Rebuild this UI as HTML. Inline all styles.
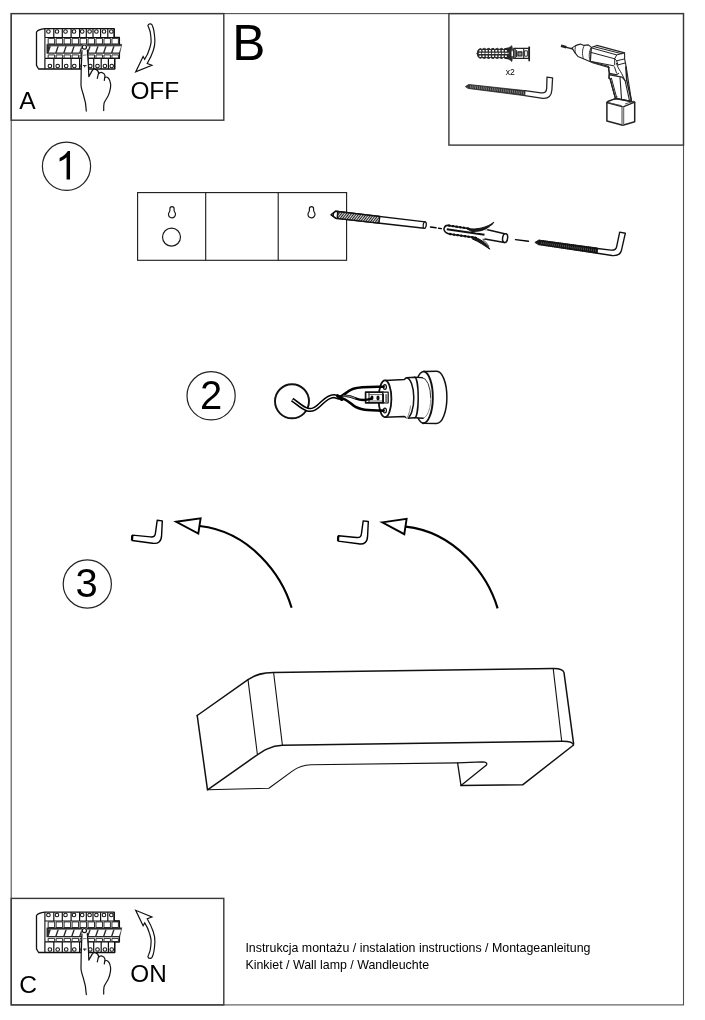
<!DOCTYPE html>
<html><head><meta charset="utf-8">
<style>
html,body{margin:0;padding:0;background:#fff;}
body{width:705px;height:1020px;overflow:hidden;position:relative;font-family:"Liberation Sans",sans-serif;}
svg{position:absolute;left:0;top:0;filter:grayscale(1);}
text{font-family:"Liberation Sans",sans-serif;fill:#000;}
</style></head><body>
<svg width="705" height="1020" viewBox="0 0 705 1020">
<defs>
<pattern id="hatch" width="2" height="2" patternUnits="userSpaceOnUse" patternTransform="rotate(-52)"><rect width="2" height="2" fill="#fff"/><rect width="2" height="1.15" fill="#222"/></pattern>
</defs>
<!-- FRAME -->
<g id="frame" fill="none" stroke="#505050" stroke-width="1.1">
<rect x="11.2" y="13.6" width="672.3" height="991.3"/>
<g stroke="#383838" stroke-width="1.4">
<rect x="11.2" y="13.6" width="212.6" height="106.6"/>
<rect x="448.9" y="13.6" width="234.6" height="131.5"/>
<rect x="11.2" y="898.4" width="212.6" height="106.5"/>
</g>
</g>
<!-- TEXT -->
<g id="labels" opacity="0.999">
<text x="19.2" y="108.8" font-size="24.6">A</text>
<text x="130.4" y="99" font-size="24.4">OFF</text>
<text x="232.2" y="60.4" font-size="49.6">B</text>
<text x="19.2" y="993.2" font-size="24.6">C</text>
<text x="130.3" y="982.2" font-size="24.3">ON</text>
<text x="505.8" y="74.6" font-size="8.6" fill="#333">x2</text>
<text x="245.4" y="951.8" font-size="12.4">Instrukcja montażu / instalation instructions / Montageanleitung</text>
<text x="245.4" y="969" font-size="12.4">Kinkiet / Wall lamp / Wandleuchte</text>
</g>
<!-- STEP CIRCLES -->
<g id="steps" opacity="0.999">
<circle cx="66.5" cy="166.3" r="24.1" fill="none" stroke="#222" stroke-width="1.2"/>
<path transform="translate(55.3 179.4) scale(0.01932 -0.01932)" d="M763 0H583V1147Q518 1085 412.5 1023T223 930V1104Q373 1174.5 485.5 1275T647 1470H763Z" fill="#000"/>
<circle cx="211.1" cy="395.8" r="24.1" fill="none" stroke="#222" stroke-width="1.2"/>
<text x="211" y="409" font-size="40" text-anchor="middle">2</text>
<circle cx="87.3" cy="584" r="24.1" fill="none" stroke="#222" stroke-width="1.2"/>
<text x="86.5" y="597.2" font-size="40" text-anchor="middle">3</text>
</g>
<g id="plate" fill="none" stroke="#1a1a1a" stroke-width="1.1">
<rect x="137.6" y="192.6" width="209" height="67.7"/>
<path d="M205.7 192.6V260.3M278.2 192.6V260.3"/>
<circle cx="171.5" cy="237.1" r="9" stroke-width="1.2"/>
<path id="kh" d="M169.9 208.7A2.1 2.1 0 0 1 174.1 208.7V210.5C174.1 211.8 175.5 212.3 175.5 214.3A3.5 3.5 0 0 1 168.5 214.3C168.5 212.3 169.9 211.8 169.9 210.5Z" stroke-width="1.2"/>
<use href="#kh" x="139.5" y="0"/>
</g>
<!--SECTION:PLATE-->
<g id="lamp" fill="none" stroke="#111" stroke-width="1.5" stroke-linejoin="round" stroke-linecap="round">
<path d="M197.2 715.5L248 679.6C256 674 263 672.7 273.6 672.5L553.2 668.4C560 668.3 563.3 669.5 564 672.7L573.6 743.6"/>
<path d="M197.2 715.5L207.5 789.8L248 761.3C259 754 268 745.6 282.4 745.2L561.7 741.3C568 741.2 573 742.2 573.6 745L522.6 784.8L461 785.6"/>
<path d="M207.5 789.8L268.9 788.2L292.3 771.1C298 767 303 765 311 764.8L457.6 762.9" stroke-width="1.1"/>
<path d="M457.6 762.9L482.3 761.8C486 761.8 487.6 763.4 486.5 764.9L461 785.6Z" stroke-width="1.3"/>
<path d="M248 679.6L257.4 754.5M273.6 672.5L282.4 745.2M553.2 668.6L561.7 741.3" stroke-width="1.1"/>
</g>
<!--SECTION:LAMP-->
<g id="arrows" fill="none" stroke="#000" stroke-linejoin="miter">
<g id="arw">
<path d="M157.2 520.3L162.3 520.9L161.6 535.5C161.3 541.6 158.2 544.2 152.5 543.2L132.1 540.5L132.5 535.1L150.5 536.9C154 537.2 155.3 536 155.5 532.7Z" stroke-width="1.4" stroke-linejoin="round"/>
<path d="M132.3 535.3L132 540.3" stroke-width="2.2"/>
<path d="M176.2 521.8L200.6 518.3L198.3 533.6Z" stroke-width="1.9"/>
<path d="M199.6 526C250 531.5 282 575 291.6 607.8" stroke-width="2.1" stroke-linecap="butt"/>
</g>
<use href="#arw" x="206" y="0.6"/>
</g>
<!--SECTION:ARROWS-->
<g id="socket" fill="none" stroke="#111" stroke-width="1.3" stroke-linecap="round" stroke-linejoin="round">
<!-- wall hole circle + cable -->
<circle cx="292" cy="401.3" r="17" stroke-width="1.9"/>
<path d="M292.2 399.6C298 403.5 302 408 307.5 409.6C312.5 411 316 408.5 321.7 403C326 399 330 396 334 396.2L340 397.8" stroke="#000" stroke-width="4.3" stroke-linecap="butt"/>
<path d="M292.6 399.9C298 403.5 302 408 307.5 409.6C312.5 411 316 408.5 321.7 403C326 399 330 396 334 396.2L339 397.4" stroke="#fff" stroke-width="1.2" stroke-linecap="butt"/>
<!-- flange -->
<path d="M423.9 371.4L436.7 371.2A10.2 26.1 0 0 1 436.7 423.4L423.1 423.3A9.8 26 0 0 1 423.9 371.4Z" fill="#fff" stroke-width="1.5"/>
<path d="M423.9 371.4A9.8 26 0 0 1 423.1 423.3" stroke-width="1.9"/>
<!-- neck -->
<path d="M414.6 377.3L422.2 377.6A8.5 20.3 0 0 1 423.1 418.2L414.6 417.7Z" fill="#fff" stroke="none"/>
<path d="M422.2 377.6A8.5 20.3 0 0 1 430.7 397.7" stroke-width="1" stroke="#333"/>
<path d="M430.7 397.7A8.5 20.3 0 0 1 423.1 418.2" stroke-width="0.9" stroke="#777" stroke-dasharray="1.6 1"/>
<path d="M414.6 377.3L422.2 377.6M414.6 417.7L423.1 418.2" stroke-width="1.4"/>
<!-- collar -->
<path d="M406.5 377.7L414.6 377.3A3.6 20.2 0 0 1 414.6 417.7L406.9 418.2Z" fill="#fff" stroke-width="1.5"/>
<!-- body -->
<path d="M385 380.4L404.4 379.4L406.5 377.7A7.6 20.3 0 0 1 406.9 418.2L404.4 416.5L385 417.2Z" fill="#fff" stroke-width="1.5"/>
<path d="M410.5 406C409.8 411 408.6 415.5 406.9 418.2" stroke="#fff" stroke-width="1.6"/>
<path d="M410.5 406C409.8 411 408.6 415.5 406.9 418.2" stroke="#666" stroke-width="0.9" stroke-dasharray="1.4 1"/>
<ellipse cx="385" cy="398.8" rx="6.4" ry="18.4" fill="#fff" stroke-width="1.8"/>
<!-- terminal details -->
<ellipse cx="384.9" cy="387" rx="1.5" ry="2.4" stroke-width="1.2"/>
<ellipse cx="384.9" cy="410.6" rx="1.5" ry="2.4" stroke-width="1.2"/>
<path d="M365.6 392.2H383V402.8H365.6Z" fill="#fff" stroke-width="1.7"/>
<path d="M383 392.2H388.2V402.8H383" fill="#fff" stroke-width="1.2"/>
<path d="M369 392.2V402.8" stroke-width="1"/>
<path d="M369 394.6H383M369 401H383" stroke-width="0.8" stroke="#444"/>
<ellipse cx="372" cy="397.7" rx="1.5" ry="2.2" fill="#111" stroke="none"/>
<ellipse cx="378" cy="398" rx="1.6" ry="2.4" fill="#111" stroke="none"/>
<path d="M386.3 395V402.4" stroke-width="2.2" stroke="#777"/>
<path d="M383.2 394V402.6" stroke-width="1.6" stroke="#111"/>
<!-- wires -->
<path d="M339.5 397.6C344 394.5 348.5 390.5 353.4 388.8C360 386.6 370 386.6 383.6 386.8" stroke="#000" stroke-width="2.6"/>
<path d="M340 398C346 398.5 349.5 402.5 353.4 405.6C359 410 368 410.4 383.6 410.6" stroke="#000" stroke-width="2.6"/>
<path d="M340 396.6C346 394.6 351 396.3 356.2 398.6C360 400.2 366 400.2 371.5 398.6" stroke="#000" stroke-width="2.5"/>
<path d="M343 396C347 395.3 351 396.6 355 398.2" stroke="#fff" stroke-width="0.6"/>
<path d="M337.5 395.8L341.8 399.4" stroke="#000" stroke-width="3.2"/>
</g>
<!--SECTION:SOCKET-->
<g id="hardware" fill="none" stroke="#111" stroke-width="1.2" stroke-linecap="round" stroke-linejoin="round">
<!-- drill bit -->
<path d="M331.2 214.8L335.7 211.2L425.1 221.9A1.6 3.3 6.8 0 1 424.3 228.3L335.7 218.2Z" fill="#fff" stroke-width="1.4"/>
<path d="M337.6 211.5L379.8 216.5L379 223.2L337.2 218.4Z" fill="url(#hatch)" stroke="#111" stroke-width="1.3"/>
<path d="M331.2 214.8L335.7 211.2L337.8 211.5L337.3 218.4L335.7 218.2Z" fill="#fff" stroke-width="1.5"/>
<path d="M333.6 213.2L333.4 216.6" stroke-width="1"/>
<ellipse cx="424.7" cy="225.1" rx="1.5" ry="3.3" transform="rotate(6.8 424.7 225.1)" stroke-width="1.2" fill="#fff"/>
<!-- dashes -->
<path d="M430.5 227L436 227.8M438.6 228.2L441.4 228.6M515.5 239.6L528.5 241.2" stroke-width="1.4" stroke="#000"/>
<!-- dowel -->
<path d="M485.5 229.2L504.6 233.7A2.6 4.5 8 0 1 504.4 242.6L483.4 238.8Z" fill="#fff" stroke-width="1.5"/>
<ellipse cx="505.1" cy="238.1" rx="2.5" ry="4.4" transform="rotate(8 505.1 238.1)" stroke-width="1.5" fill="#fff"/>
<path d="M443.9 229.1C444.4 226.6 446 225.2 448.2 225.4L487 230.5L484.4 239L449.3 233.9C446.5 233.3 444.4 231.8 443.9 229.1Z" fill="#fff" stroke="none"/><path d="M470 228.8L448.2 225.4C446 225.2 444.4 226.6 443.9 229.1C444.4 231.8 446.5 233.3 449.3 233.9L476 237.7" stroke-width="1.5"/>
<path d="M449 225.5L470 228.7" stroke="#111" stroke-width="2.3" stroke-dasharray="0.7 3"/>
<path d="M450 234L476 237.8" stroke="#111" stroke-width="2.3" stroke-dasharray="0.7 3"/>
<path d="M446.8 229.2L484.5 234.8" stroke="#111" stroke-width="2" stroke-linecap="butt"/>
<path d="M467 228.6C477 230 487 227.6 493.8 222.2C490 229 480 232.6 472 231.6Z" fill="#1a1a1a" stroke-width="1"/>
<path d="M473 237.1C480 238.1 486 243 489.8 249.2C485 246 480 242.2 472.5 239Z" fill="#1a1a1a" stroke-width="1"/>
<path d="M476 232.3C482 232.2 487 230 491.3 225.8" stroke-width="0.9" stroke="#fff"/>
<path d="M483 239.6C485.5 241.5 487.5 244 488.8 246.5" stroke-width="0.9" stroke="#222"/>
<!-- hook screw -->
<path d="M597.3 248.5L611 250.1C614.6 250.4 616 249.5 616.6 246.8L619.7 232.1L625.3 233.3L621.5 250.2C620.3 254.6 617 256 612 255.5L597.3 253.2" fill="#fff" stroke-width="1.4"/>
<path d="M535.2 242.2L538.8 240.1L597.6 248.1L597.2 253.4L538.5 244.6Z" fill="#161616" stroke="#111" stroke-width="0.9"/>
<path d="M541 242.9L596.5 250.7" stroke="#fff" stroke-width="2.2" stroke-dasharray="0.45 1.5" stroke-linecap="butt" opacity="0.5"/>
<path d="M539 240.3L597.4 248.2M538.8 244.5L597.1 253.2" stroke="#111" stroke-width="1.3" stroke-dasharray="1.1 0.8" stroke-linecap="butt"/>
</g>
<!--SECTION:HARDWARE-->
<g id="tools" fill="none" stroke="#222" stroke-width="1" stroke-linecap="round" stroke-linejoin="round">
<!-- dowel in box -->
<path d="M477.2 53.4C477.4 50.5 478.6 48.8 480.5 48.6L482 49.4L484.5 48.3L486.2 49.4L488.8 48.3L490.5 49.4L493.1 48.3L494.8 49.4L497.4 48.3L499.1 49.4L501.7 48.3L503.4 49.4L506 48.3L511 48.3V58.6L506 58.6L503.4 57.5L501.7 58.6L499.1 57.5L497.4 58.6L494.8 57.5L493.1 58.6L490.5 57.5L488.8 58.6L486.2 57.5L484.5 58.6L482 57.5L480.5 58.3C478.6 58 477.4 56.4 477.2 53.4Z" fill="#2b2b2b" stroke="#222" stroke-width="1"/>
<path d="M479.4 50.7H508" stroke="#fff" stroke-width="1.5" stroke-dasharray="1.8 1.4" stroke-linecap="butt"/>
<path d="M478.8 53.4H509" stroke="#fff" stroke-width="1.3" stroke-dasharray="2.5 0.8" stroke-linecap="butt"/>
<path d="M479.4 56.2H508" stroke="#fff" stroke-width="1.5" stroke-dasharray="1.8 1.4" stroke-linecap="butt"/>
<path d="M505 49C508 48.4 510.2 47.3 511.8 45.7L512.5 49.8ZM505 57.9C508 58.5 510.2 59.7 511.8 61.5L512.5 57.2Z" fill="#2b2b2b" stroke-width="0.8"/>
<path d="M511.4 50.8H513.8V56.4H511.4Z" fill="#fff" stroke-width="0.7"/>
<path d="M513.8 48.4H529V58.4H513.8Z" fill="#fff" stroke-width="1.4"/>
<path d="M515.2 48.4V58.4M516.6 50.5V56.5M523.7 48.4V58.4" stroke-width="1.1"/>
<path d="M517.9 51.9H522V56H517.9Z" stroke-width="1.1" fill="#888"/>
<path d="M525 50.8H527.4V56.2H525Z" stroke-width="0.9" fill="#fff"/>
<path d="M529.2 47.2V60.6" stroke-width="1.7"/>
<!-- hook screw in box -->
<path d="M524.9 90.7L541 92.8C545 93.2 546.5 91.8 546.7 88.1L547 77.1L552.6 77.8L551.9 89.8C551.5 96 548.5 98.8 542.8 98.3L524.9 95.6" fill="#fff" stroke-width="1.3"/>
<path d="M465.7 86.4L468.7 84.5L525.1 90.6L524.8 95.7L468.5 88.5Z" fill="#333" stroke="#222" stroke-width="0.8"/>
<path d="M470 86.6L524.5 93.1" stroke="#fff" stroke-width="2.8" stroke-dasharray="0.55 1.3" stroke-linecap="butt" opacity="0.6"/>
</g>
<g id="drill" fill="none" stroke="#222" stroke-width="1" stroke-linecap="round" stroke-linejoin="round">
<!-- bit -->
<path d="M561 45.8L566.4 47.3" stroke="#222" stroke-width="2.6" stroke-linecap="butt"/>
<path d="M566.4 47.3L573 49" stroke-width="1.3"/>
<!-- chuck -->
<path d="M572 47.9L576 45.4L580.4 44.1L583.9 45.4L588.4 44.9L591.4 47.4L590.4 61.8L583.4 58.8L577.9 56.4L575 52.9Z" fill="#fff" stroke-width="1.1"/>
<path d="M576 45.4C574.8 48 574.6 51 575.6 53.6M584.4 45.3C582 49 582 54.5 583.4 58.7M591.4 47.4C588.8 51 588.5 57 590.4 61.8" stroke-width="0.9"/>
<!-- motor body -->
<path d="M591.4 47.4L596.8 45.4L624.6 52.9L624.6 58.8L625.6 63.8L626.2 66.9L631.5 101.4L616.9 98.8L615.1 97.4L610 78.5L609 78.2L609.3 73L608.3 66.4L590.4 61.5Z" fill="#fff" stroke-width="1.1"/>
<path d="M593.3 46.5L621.6 53.7M591.4 47.9L616.7 54.9L624.6 52.9M590.9 52.4L614.7 58.8M590.4 61.3L613.7 65.8M591.6 62.5L609.7 67.8" stroke-width="1"/>
<path d="M616.7 54.9L614.7 58.8L614.7 64.8M616.7 60.8L624.6 58.9M617.9 64.9L625.2 63M614.7 58.8L616.7 60.8L617.9 64.9" stroke-width="1"/>
<!-- handle -->
<path d="M608.3 66.4L609.3 73L609 78.2L610 78.5L615.1 97.4C615.6 98.4 616.2 98.7 616.9 98.8" stroke-width="1.3"/>
<path d="M611.4 78.2L616.5 97" stroke-width="1"/>
<path d="M609.7 73.4L616.5 74.7L618.6 73.4M610 74.9L622 77.1L625.1 80.6L629.6 101.2M620 77.5L621.7 101.2" stroke-width="1.1"/>
<path d="M625.8 66.9L626.8 80.6L631.5 101.4" stroke-width="1.5"/>
<path d="M614.5 66.9L616.5 73M616.5 63.4C617.5 66.5 619 69.5 620.6 71.7C622 74 623.6 77.5 625.1 80.6" stroke-width="1"/>
<!-- battery -->
<path d="M606.9 102.5C607.2 101.8 607.7 101.4 608.3 101.2L614.1 99.1L616.9 98.8L634.7 102.2L634.7 121.7L622.8 125.2L606.9 121.1Z" fill="#fff" stroke-width="1.5"/>
<path d="M606.9 102.5L622 106.7L623.7 106.6L634.7 102.2" stroke-width="1.3"/>
<path d="M622 106.7V125M623.7 106.6V125" stroke-width="1" stroke="#444"/>
<path d="M622.85 107V124.8" stroke-width="1" stroke="#999"/>
<path d="M608.6 102.8L621.3 105.6M625.4 103.9L633.6 101.2" stroke-width="0.9" stroke="#444"/>
<path d="M616.9 98.8L631.5 101.4" stroke-width="1.1"/>
<path d="M613.8 99.3C615.4 99.6 617 98.4 617 96.8" stroke-width="1"/>
</g>
<!--SECTION:TOOLS-->
<!--BRK-START-->
<g id="panelA">
<g id="brk" fill="none" stroke="#111" stroke-width="1" stroke-linejoin="round">
<path d="M44.9 28.7C40.5 29.3 37.6 30.4 36.5 32V65.4L38.6 69H114.7V58.4H119.4V37.5H114.2V28.7Z" fill="#fff" stroke-width="1.3"/>
<path d="M44.9 28.7V37.5M53.8 28.7V37.5M62.3 28.7V37.5M71.1 28.7V37.5M79.6 28.7V37.5M86.3 28.7V37.5M93.0 28.7V37.5M100.6 28.7V37.5M107.8 28.7V37.5M114.2 28.7V37.5M44.9 58.4V69M53.8 58.4V69M62.3 58.4V69M71.1 58.4V69M79.6 58.4V69M88.0 58.4V69M93.7 58.4V69M101.2 58.4V69M108.4 58.4V69M114.7 58.4V69" stroke-width="1.2"/>
<path d="M44.9 37.5H119.4M44.9 58.4H119.4M44.9 37.5V58.4" stroke-width="1.1"/>
<circle cx="48.4" cy="31.5" r="1.8" stroke-width="1.05"/>
<circle cx="57.0" cy="31.5" r="1.8" stroke-width="1.05"/>
<circle cx="65.5" cy="31.5" r="1.8" stroke-width="1.05"/>
<circle cx="74.0" cy="31.5" r="1.8" stroke-width="1.05"/>
<circle cx="82.2" cy="31.5" r="1.8" stroke-width="1.05"/>
<circle cx="89.6" cy="31.5" r="1.8" stroke-width="1.05"/>
<circle cx="96.4" cy="31.5" r="1.8" stroke-width="1.05"/>
<circle cx="104.0" cy="31.5" r="1.8" stroke-width="1.05"/>
<circle cx="111.3" cy="31.5" r="1.8" stroke-width="1.05"/>
<circle cx="49.9" cy="66" r="1.8" stroke-width="1.05"/>
<circle cx="57.7" cy="66" r="1.8" stroke-width="1.05"/>
<circle cx="66.2" cy="66" r="1.8" stroke-width="1.05"/>
<circle cx="74.3" cy="66" r="1.8" stroke-width="1.05"/>
<circle cx="82.5" cy="66" r="1.8" stroke-width="1.05"/>
<circle cx="90.3" cy="66" r="1.8" stroke-width="1.05"/>
<circle cx="97.5" cy="66" r="1.8" stroke-width="1.05"/>
<circle cx="104.9" cy="66" r="1.8" stroke-width="1.05"/>
<circle cx="111.7" cy="66" r="1.8" stroke-width="1.05"/>
<path d="M48.17 38.4H54.64V44H48.17ZM48.17 54.9H54.64V58H48.17ZM56.14 38.4H62.61V44H56.14ZM56.14 54.9H62.61V58H56.14ZM64.11 38.4H70.58V44H64.11ZM64.11 54.9H70.58V58H64.11ZM72.08 38.4H78.55V44H72.08ZM72.08 54.9H78.55V58H72.08ZM80.05 38.4H86.52V44H80.05ZM80.05 54.9H86.52V58H80.05ZM88.02 38.4H94.49V44H88.02ZM88.02 54.9H94.49V58H88.02ZM95.99 38.4H102.46V44H95.99ZM95.99 54.9H102.46V58H95.99ZM103.96 38.4H110.43V44H103.96ZM103.96 54.9H110.43V58H103.96ZM111.93 38.4H118.40V44H111.93ZM111.93 54.9H118.40V58H111.93Z" stroke="#222" stroke-width="0.95" fill="#fff"/>
<path d="M46.8 44.3H121.8L119.7 53.5H46.8Z" fill="#2a2a2a" stroke="#222" stroke-width="0.5"/>
<path d="M48.77 52.45L50.87 46.2H57.37L55.27 52.45ZM56.74 52.45L58.84 46.2H65.34L63.24 52.45ZM64.71 52.45L66.81 46.2H73.31L71.21 52.45ZM72.68 52.45L74.78 46.2H81.28L79.18 52.45ZM80.65 52.45L82.75 46.2H89.25L87.15 52.45ZM88.62 52.45L90.72 46.2H97.22L95.12 52.45ZM96.59 52.45L98.69 46.2H105.19L103.09 52.45ZM104.56 52.45L106.66 46.2H113.16L111.06 52.45ZM112.53 52.45L114.63 46.2H121.13L119.03 52.45Z" fill="#fff" stroke="none"/>
<path d="M48.5 46.1H120.5" stroke="#aaa" stroke-width="0.5"/>
</g>
<g id="hand" fill="none" stroke="#111" stroke-width="1.2" stroke-linecap="round" stroke-linejoin="round">
<path d="M86.3 111.1C86.1 104 85.5 101 83.3 94.5C81.8 90 81 87.5 81 85.1L81.2 69.8L82 50.6C82.3 48.3 87 48 87.3 49.8L88.4 65.5L88.8 76.6L92.2 70.6C93.5 68.6 97.5 68.6 98.6 72.8C100 71.2 104 72 105 75.7C106.8 75.6 109.3 78 110.1 81.7C110.8 84 110.8 86 110.5 87.7C110 91 109.5 93 108.4 95.3C106.5 99 104.8 101 104.1 103C103.6 105.5 103.6 108 103.7 110.6" fill="#fff" stroke="none"/>
<path d="M86.3 111.1C86.1 104 85.5 101 83.3 94.5C81.8 90 81 87.5 81 85.1L81.2 69.8L82 50.6M87.3 49.8L88.4 65.5L88.8 76.6L92.2 70.6C93.5 68.6 97.8 68.4 98.6 72.8L97.3 78.3M98.6 74C100 71.6 104.2 72 105 75.7L104.3 80.4M105.4 77.4C106.8 76.2 109.3 78 110.1 81.7C110.8 84 110.8 86 110.5 87.7C110 91 109.5 93 108.4 95.3C106.5 99 104.8 101 104.1 103C103.6 105.5 103.6 108 103.7 110.6"/>
<path d="M83.3 55.3L86.3 54.9" stroke-width="0.8" stroke="#555"/>
<path d="M83.3 65.6H86.2M84.7 65.6V67" stroke-width="1" stroke="#222"/>
<circle cx="84.4" cy="47.1" r="2.9" fill="#fff" stroke="none"/><circle cx="84.4" cy="47.1" r="2.1" fill="#fff" stroke-width="1.2"/>
</g>
</g>
<use href="#panelA" x="0" y="883.5"/>
<path id="carrow" d="M147.9 25.6C148.2 23.4 151.6 23.2 152.2 25.2C153.6 28 154.6 34 154.9 40.5C155 44 154.3 47.5 153.2 50.7C151.8 55 149.7 59.2 147.2 63.5L151.9 65.2L135.7 71.9L143.1 56.5L144.7 59.3C146.8 56 148.5 52.5 149.4 49C150.6 45.5 151.3 43 151.1 40.5C150.9 36 150.4 33 150.2 32C149.6 29.5 148.6 27.5 147.9 25.6Z" fill="#fff" stroke="#111" stroke-width="1.2" stroke-linejoin="miter"/>
<use href="#carrow" transform="translate(0 982.2) scale(1 -1)"/>
<!--BRK-END-->
<!--SECTION:BREAKER-->
</svg>
</body></html>
